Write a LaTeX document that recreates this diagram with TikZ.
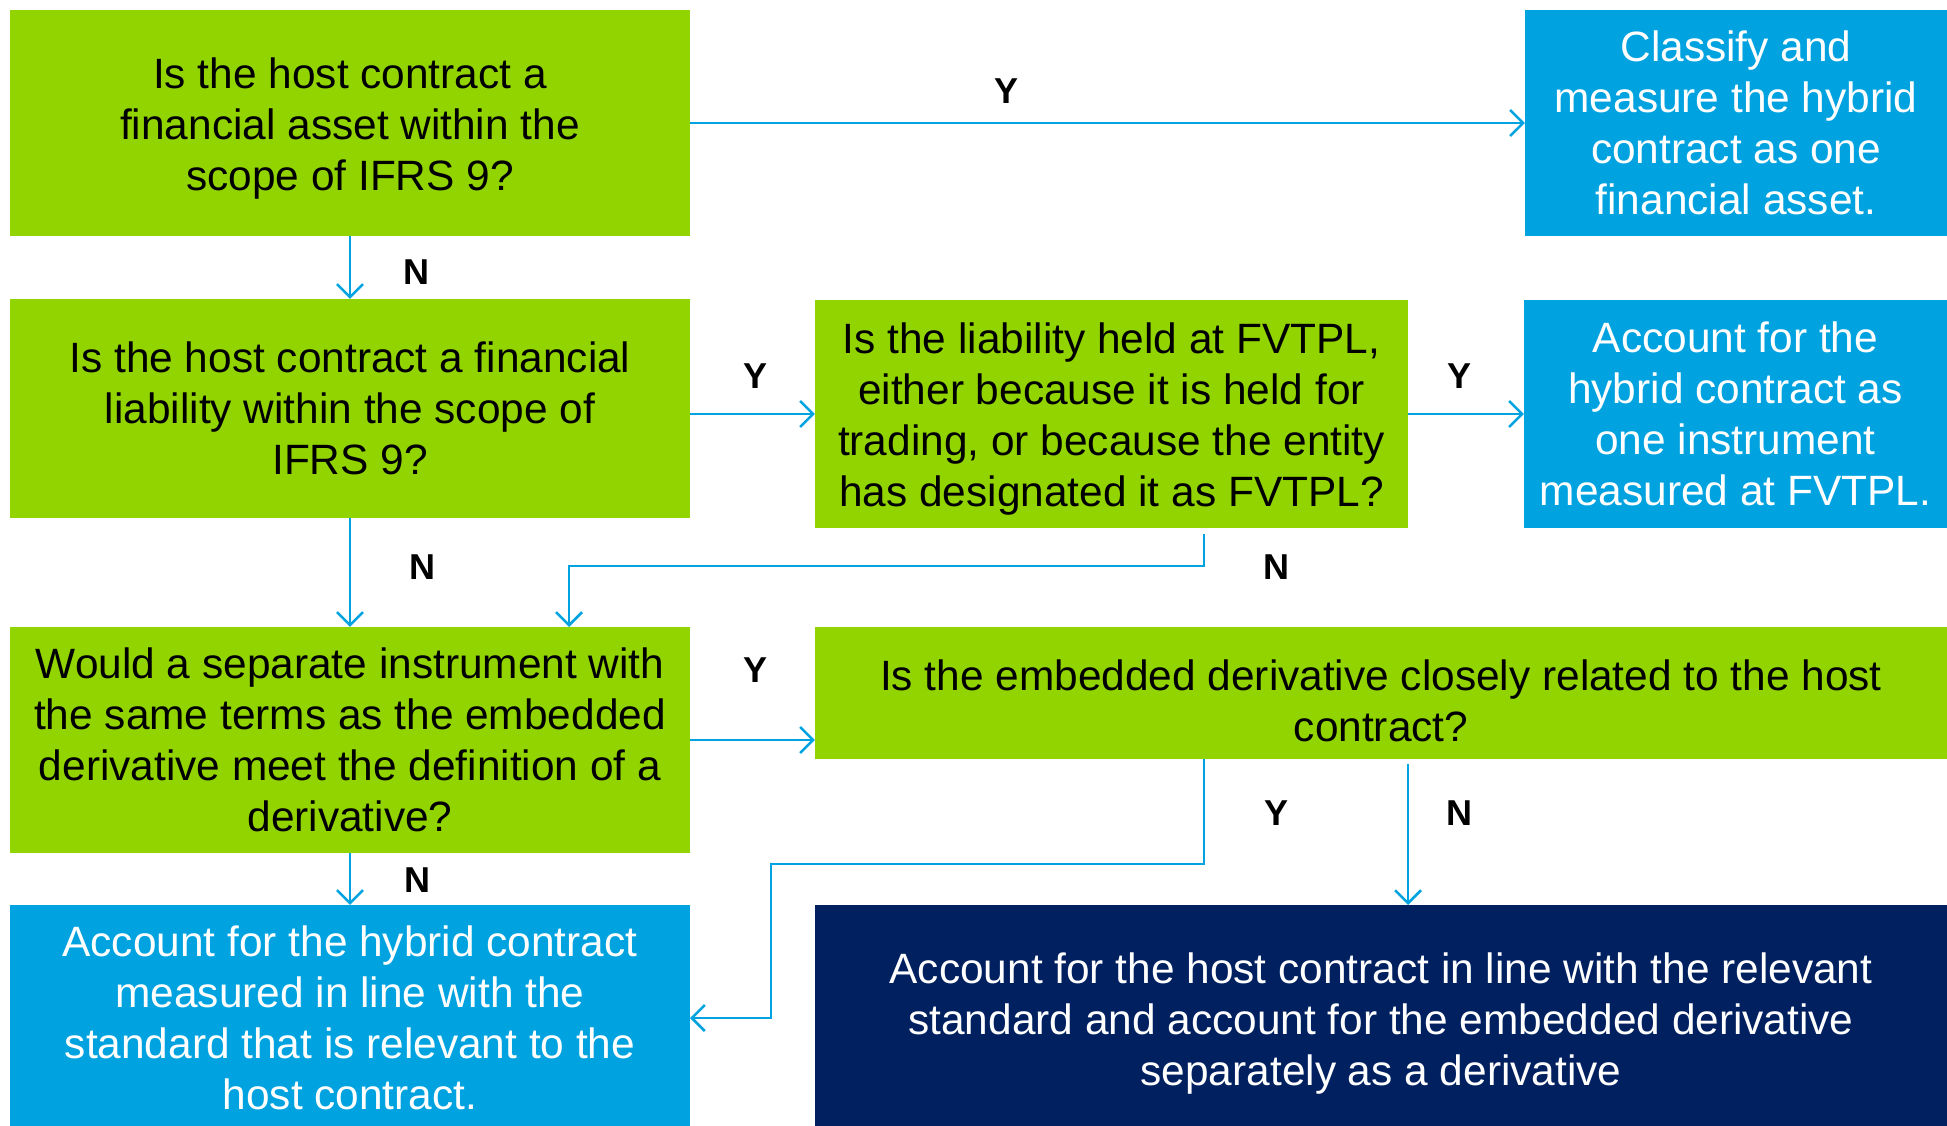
\documentclass[tikz,border=0pt]{standalone}
\usepackage{fontspec}
\setmainfont{Liberation Sans}
\usetikzlibrary{arrows.meta}
\definecolor{dgreen}{HTML}{92D400}
\definecolor{dblue}{HTML}{00A3E0}
\definecolor{dnavy}{HTML}{012060}
\begin{document}
\begin{tikzpicture}[x=1pt,y=-1pt,
  box/.style={rectangle,inner sep=0pt},
  qbox/.style={box,fill=dgreen},
  abox/.style={box,fill=dblue},
  nbox/.style={box,fill=dnavy},
  txt/.style={inner sep=0pt,align=center,font=\fontsize{42.4}{51}\selectfont},
  btxt/.style={txt,text=black},
  wtxt/.style={txt,text=white},
  arr/.style={draw=dblue,line width=2.5pt,-{Straight Barb[length=13pt,width=26pt,line width=2.5pt]}},
  lbl/.style={font=\fontsize{36}{40}\selectfont\bfseries,text=black,inner sep=0pt}]
\useasboundingbox (0,0) rectangle (1947,1126);
% boxes
\node[qbox,minimum width=680pt,minimum height=226pt] (A) at (350,123) {};
\node[abox,minimum width=422pt,minimum height=226pt] (B) at (1736,123) {};
\node[qbox,minimum width=680pt,minimum height=219pt] (C) at (350,408.5) {};
\node[qbox,minimum width=593pt,minimum height=228pt] (D) at (1111.5,414) {};
\node[abox,minimum width=423pt,minimum height=228pt] (E) at (1735.5,414) {};
\node[qbox,minimum width=680pt,minimum height=226pt] (F) at (350,740) {};
\node[qbox,minimum width=1132pt,minimum height=132pt] (G) at (1381,693) {};
\node[abox,minimum width=680pt,minimum height=221pt] (H) at (350,1015.5) {};
\node[nbox,minimum width=1132pt,minimum height=221pt] (I) at (1381,1015.5) {};
% box texts
\node[btxt,yshift=-6pt] (At) at (A.center) {Is the host contract a\\financial asset within the\\scope of IFRS 9?};
\node[wtxt] (Bt) at (B.center) {Classify and\\measure the hybrid\\contract as one\\financial asset.};
\node[btxt] (Ct) at (C.center) {Is the host contract a financial\\liability within the scope of\\IFRS 9?};
\node[btxt,yshift=-5pt] (Dt) at (D.center) {Is the liability held at FVTPL,\\either because it is held for\\trading, or because the entity\\has designated it as FVTPL?};
\node[wtxt] (Et) at (E.center) {Account for the\\hybrid contract as\\one instrument\\measured at FVTPL.};
\node[btxt] (Ft) at (F.center) {Would a separate instrument with\\the same terms as the embedded\\derivative meet the definition of a\\derivative?};
\node[btxt,yshift=-7.5pt] (Gt) at (G.center) {Is the embedded derivative closely related to the host\\contract?};
\node[wtxt,yshift=-2.5pt] (Ht) at (H.center) {Account for the hybrid contract\\measured in line with the\\standard that is relevant to the\\host contract.};
\node[wtxt,yshift=-8pt] (It) at (I.center) {Account for the host contract in line with the relevant\\standard and account for the embedded derivative\\separately as a derivative};
% helper coordinates
\coordinate (dn) at (1204,534);
\coordinate (fn) at (569,627);
\coordinate (gy) at (1204,759);
\coordinate (hin) at (690,1018);
\coordinate (gn) at (1408,764);
\coordinate (in) at (1408,905);
% connectors
\draw[arr] (A.east) -- (B.west);
\draw[arr] (A.south) -- (C.north);
\draw[arr] (C.east |- D.west) -- (D.west);
\draw[arr] (D.east) -- (E.west);
\draw[arr] (C.south) -- (F.north);
\draw[arr] (dn) -- (1204,566) -| (fn);
\draw[arr] (F.east) -- (F.east -| G.west);
\draw[arr] (F.south) -- (H.north);
\draw[arr] (gy) -- (1204,864) -| (771,1018) -- (hin);
\draw[arr] (gn) -- (in);
% labels
\node[lbl] (l1) at (1006,91) {Y};
\node[lbl] (l2) at (416,272) {N};
\node[lbl] (l3) at (755,376) {Y};
\node[lbl] (l4) at (1459,376) {Y};
\node[lbl] (l5) at (422,567) {N};
\node[lbl] (l6) at (1276,567) {N};
\node[lbl] (l7) at (755,670) {Y};
\node[lbl] (l8) at (417,880) {N};
\node[lbl] (l9) at (1276,813) {Y};
\node[lbl] (l10) at (1459,813) {N};
\end{tikzpicture}
\end{document}
